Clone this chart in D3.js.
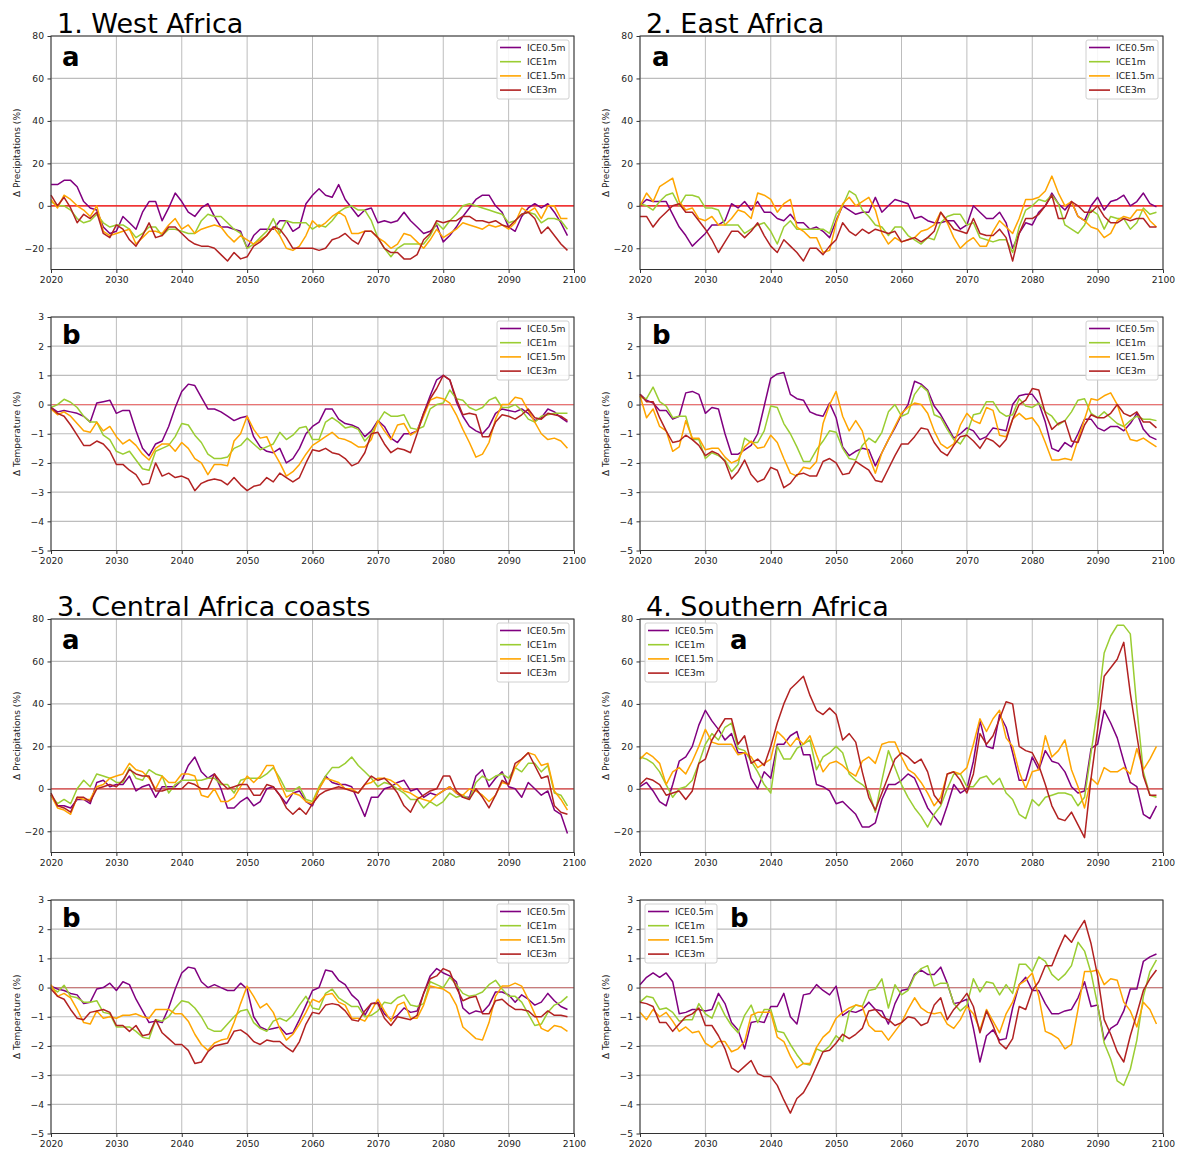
<!DOCTYPE html>
<html>
<head>
<meta charset="utf-8">
<script src="https://cdn.jsdelivr.net/npm/d3@7"></script>
<style>
  body { margin: 0; background: #fff; }
  text { font-family: "DejaVu Sans", sans-serif; }
</style>
</head>
<body>
<script>
"use strict";

// ---- data (one per year 2020..2099) ----
var years = d3.range(2020, 2100);
var xTicks = [2020, 2030, 2040, 2050, 2060, 2070, 2080, 2090, 2100];
var precipTicks = [-20, 0, 20, 40, 60, 80];
var tempTicks = [-5, -4, -3, -2, -1, 0, 1, 2, 3];
var seriesNames = ["ICE0.5m", "ICE1m", "ICE1.5m", "ICE3m"];
var seriesColors = ["#800080", "#9acd32", "#ffa500", "#b22222"];

// 1. West Africa
var westPrecip05 = [10,10,12,12,9,2,-1,-2,-10,-13, -12,-5,-8,-11,-3,2,2,-7,-1,6, 2,-3,-5,-1,1,-5,-10,-10,-11,-12, -20,-14,-11,-11,-11,-7,-7,-12,-10,1, 5,8,5,4,10,3,-1,-5,-2,-1, -8,-7,-8,-7,-3,-7,-10,-13,-12,-9, -17,-14,-10,-5,-1,3,5,5,0,-3, -10,-12,-5,-1,1,-1,1,-3,-8,-14];
var westPrecip1 = [2,0,0,-2,-6,-8,-7,-4,-8,-10, -9,-9,-11,-15,-13,-10,-10,-14,-11,-11, -12,-13,-13,-7,-4,-5,-5,-8,-11,-13, -20,-18,-15,-12,-6,-13,-7,-8,-8,-8, -11,-9,-10,-7,-3,-1,0,-2,-2,-7, -15,-20,-24,-20,-18,-18,-18,-18,-14,-8, -11,-7,-4,0,1,0,-1,-2,-3,-4, -8,-7,-4,-3,-4,-8,-6,-6,-7,-11];
var westPrecip15 = [3,-1,5,3,0,-2,-5,0,-12,-14, -13,-12,-11,-18,-15,-12,-12,-13,-9,-6, -11,-9,-13,-11,-10,-9,-10,-14,-17,-14, -16,-18,-16,-14,-10,-14,-20,-21,-19,-14, -7,-10,-8,-5,-3,-5,-13,-13,-12,-12, -15,-17,-20,-18,-13,-14,-17,-20,-16,-11, -15,-13,-11,-8,-9,-10,-11,-9,-10,-9, -11,-8,-1,-3,-1,-6,0,0,-6,-6];
var westPrecip3 = [5,0,4,-1,-8,-4,-6,-3,-13,-15, -9,-11,-16,-19,-14,-8,-15,-14,-10,-10, -13,-16,-18,-19,-19,-20,-23,-26,-22,-25, -24,-19,-17,-14,-10,-11,-15,-20,-20,-20, -20,-21,-20,-16,-15,-13,-16,-18,-12,-12, -15,-20,-22,-22,-25,-25,-23,-16,-13,-7, -8,-7,-7,-5,-5,-7,-7,-8,-7,-9, -10,-7,-4,-3,-6,-13,-10,-14,-18,-21];
var westTemp05 = [-0.1,-0.25,-0.2,-0.25,-0.3,-0.4,-0.6,0.05,0.1,0.15, -0.3,-0.2,-0.2,-0.9,-1.5,-1.75,-1.35,-1.25,-0.75,-0.1, 0.45,0.7,0.65,0.25,-0.15,-0.15,-0.25,-0.4,-0.55,-0.45, -0.4,-1.1,-1.45,-1.6,-1.65,-1.5,-2.0,-1.85,-1.5,-1.0, -0.75,-0.6,-0.15,-0.15,-0.5,-0.65,-0.7,-0.8,-1.1,-0.9, -0.55,-0.75,-1.15,-1.3,-1.0,-1.0,-0.9,-0.3,0.3,0.85, 1.0,0.85,0.1,-0.4,-0.75,-0.9,-1.0,-0.75,-0.3,-0.15, -0.2,-0.25,-0.15,-0.3,-0.55,-0.45,-0.15,-0.25,-0.45,-0.6];
var westTemp1 = [-0.1,0.0,0.18,0.08,-0.1,-0.4,-0.6,-0.6,-1.05,-1.2, -1.6,-1.7,-1.6,-1.9,-2.2,-2.25,-1.6,-1.5,-1.4,-1.1, -0.65,-0.7,-1.05,-1.3,-1.7,-1.85,-1.85,-1.8,-1.5,-1.4, -1.15,-1.35,-1.55,-1.45,-1.35,-0.95,-1.2,-1.05,-0.8,-0.75, -1.2,-1.2,-0.6,-0.45,-0.6,-0.8,-0.75,-0.85,-1.25,-1.0, -0.6,-0.25,-0.4,-0.4,-0.35,-0.8,-0.85,-0.75,-0.15,0.0, 0.05,0.5,0.2,0.15,-0.1,-0.2,-0.1,0.15,0.25,-0.1, -0.1,0.0,-0.2,-0.5,-0.6,-0.4,-0.35,-0.3,-0.3,-0.3];
var westTemp15 = [-0.15,-0.35,-0.25,-0.4,-0.65,-0.9,-0.95,-0.6,-0.9,-0.75, -1.1,-1.35,-1.2,-1.4,-1.7,-1.9,-1.5,-1.35,-1.35,-1.6, -1.3,-1.5,-1.85,-2.0,-2.4,-2.05,-2.05,-2.1,-1.25,-1.0, -0.4,-0.85,-1.15,-1.1,-1.6,-2.0,-2.45,-2.3,-2.05,-1.7, -1.4,-1.25,-1.1,-0.95,-1.15,-1.2,-1.3,-1.45,-1.45,-1.2, -0.55,-0.9,-1.2,-0.7,-0.65,-1.05,-0.9,-0.4,0.15,0.25, 0.2,0.05,-0.35,-0.85,-1.3,-1.8,-1.7,-1.3,-0.5,0.0, 0.0,0.25,0.2,-0.2,-0.6,-1.0,-1.2,-1.15,-1.25,-1.5];
var westTemp3 = [-0.1,-0.3,-0.4,-0.7,-1.05,-1.4,-1.4,-1.25,-1.35,-1.6, -2.05,-2.05,-2.25,-2.4,-2.75,-2.7,-2.0,-2.45,-2.35,-2.5, -2.45,-2.55,-2.95,-2.7,-2.6,-2.55,-2.6,-2.75,-2.5,-2.75, -2.95,-2.8,-2.75,-2.5,-2.65,-2.35,-2.5,-2.65,-2.5,-2.0, -1.55,-1.6,-1.5,-1.65,-1.7,-1.85,-2.1,-2.0,-1.65,-1.0, -0.95,-1.35,-1.65,-1.5,-1.55,-1.65,-1.0,-0.3,0.2,0.55, 1.0,0.85,0.2,-0.35,-0.3,-0.35,-1.1,-1.1,-0.6,-0.35, -0.4,-0.5,-0.35,-0.15,-0.45,-0.5,-0.3,-0.35,-0.4,-0.55];

// 2. East Africa
var eastPrecip05 = [0,3,2,2,2,-4,-10,-14,-19,-16, -13,-9,-9,-7,1,-1,2,-2,2,-3, -3,-6,-7,-4,-8,-8,-11,-10,-12,-15, -7,0,-2,-4,-3,-3,4,-3,0,3, 2,1,-6,-5,-7,-8,-8,-7,-7,-11, -9,0,-3,-6,-6,-3,-8,-20,-13,-8, -9,-3,0,6,1,-2,2,-5,-7,0, 4,-2,2,3,5,0,2,6,1,-0.5];
var eastPrecip1 = [1,0,-2,2,5,6,0,5,5,4, -1,-1,-2,-9,-9,-9,-13,-11,-9,-8, -12,-18,-10,-7,-11,-11,-11,-11,-11,-13, -4,0,7,5,-2,-5,-9,-10,-14,-10, -10,-14,-16,-18,-15,-16,-8,-5,-4,-4, -9,-8,-15,-16,-17,-16,-16,-22,-10,-2, 0,3,2,5,1,-9,-11,-13,-9,-2, -4,-11,-5,-6,-6,-11,-8,-1,-4,-3];
var eastPrecip15 = [0,6,2,9,11,13,2,-2,-1,-6, -7,-5,-9,-9,-6,-2,-3,-6,6,5, 3,-3,1,3,-10,-12,-15,-15,-22,-21, -8,1,4,0,2,4,-2,-13,-18,-15, -17,-16,-15,-12,-11,-9,-3,-8,-15,-20, -17,-15,-19,-19,-12,-7,-10,-13,-6,3, 3,4,7,14,6,0,2,-5,-7,-10, -11,-15,-13,-7,-5,-6,-2,-2,-7,-10];
var eastPrecip3 = [-5,-5,-10,-6,-3,0,1,-3,-3,-7, -11,-16,-22,-17,-12,-12,-15,-12,-8,-14, -19,-22,-16,-19,-22,-26,-20,-20,-23,-19, -16,-8,-12,-14,-11,-13,-11,-12,-13,-12, -17,-16,-15,-17,-15,-12,-3,-7,-11,-12, -13,-6,-13,-14,-14,-11,-15,-26,-13,-6, -6,-4,0,5,-6,-6,2,0,-3,-3, 0,-5,-8,-8,-6,-7,-6,-6,-10,-10];
var eastTemp05 = [0.35,0.15,0.05,-0.2,-0.2,-0.5,-0.4,0.4,0.45,0.35, -0.3,-0.1,-0.15,-1.0,-1.7,-1.7,-1.55,-1.4,-1.0,-0.05, 0.9,1.05,1.1,0.35,0.2,0.15,-0.25,-0.35,-0.4,0.05, -0.45,-1.45,-1.75,-1.6,-1.5,-1.55,-2.1,-1.65,-1.2,-0.8, -0.35,0.0,0.8,0.7,0.5,-0.05,-0.35,-0.75,-1.15,-1.0, -0.8,-0.9,-1.2,-1.1,-0.8,-0.85,-0.9,0.0,0.3,0.35, 0.35,0.05,-0.6,-1.5,-1.6,-1.3,-1.45,-1.0,-0.5,-0.5, -0.8,-0.9,-0.75,-0.75,-0.9,-0.65,-0.3,-0.85,-1.1,-1.2];
var eastTemp1 = [0.25,0.2,0.6,0.1,-0.05,-0.45,-0.4,-0.4,-1.2,-1.2, -1.85,-1.65,-1.75,-1.9,-2.3,-2.05,-1.15,-1.3,-1.3,-0.9, -0.05,-0.1,-0.65,-1.0,-1.45,-1.95,-1.95,-1.55,-1.25,-0.9, -0.95,-1.5,-1.85,-1.9,-1.4,-1.15,-1.3,-0.95,-0.25,0.0, -0.4,-0.3,0.35,0.65,0.45,-0.35,-0.45,-0.85,-1.2,-1.35, -1.0,-0.35,-0.3,0.1,0.1,-0.25,-0.4,-0.35,0.2,-0.05, -0.1,0.05,-0.25,-0.4,-0.7,-0.55,-0.25,0.15,0.2,-0.3, -0.45,-0.25,-0.45,-0.65,-0.75,-0.55,-0.4,-0.5,-0.5,-0.55];
var eastTemp15 = [0.3,-0.45,-0.15,-0.75,-0.9,-1.6,-1.45,-0.55,-1.15,-1.15, -1.55,-1.5,-1.5,-1.8,-2.0,-1.9,-1.45,-1.25,-1.5,-1.45, -1.05,-1.3,-1.85,-2.35,-2.45,-2.15,-2.2,-1.95,-0.65,0.0, 0.45,-0.4,-0.9,-0.55,-0.9,-1.75,-2.35,-1.65,-1.2,-0.75, -0.3,-0.1,0.05,0.0,-0.3,-0.9,-1.35,-1.5,-1.35,-0.7, -0.3,-0.55,-0.65,-0.1,-0.2,-1.05,-1.1,-0.5,-0.3,-0.5, -0.45,-0.75,-1.3,-1.9,-1.9,-1.85,-1.9,-1.2,-0.5,0.2, 0.15,0.3,0.4,0.0,-0.7,-1.2,-1.25,-1.15,-1.3,-1.45];
var eastTemp3 = [0.35,0.1,0.1,-0.45,-0.9,-1.3,-1.25,-1.05,-1.2,-1.4, -1.75,-1.6,-1.7,-1.95,-2.55,-2.3,-1.9,-2.4,-2.65,-2.55, -2.15,-2.25,-2.85,-2.7,-2.4,-2.35,-2.45,-2.45,-1.95,-1.85, -2.0,-2.4,-2.35,-1.95,-2.1,-2.25,-2.6,-2.65,-2.2,-1.75, -1.35,-1.35,-1.1,-0.8,-0.85,-1.3,-1.6,-1.75,-1.4,-1.1, -1.05,-1.25,-1.5,-1.15,-1.25,-1.45,-1.2,-0.5,0.0,0.15, 0.55,0.5,-0.3,-0.85,-0.65,-0.55,-1.25,-1.3,-0.7,-0.35, -0.45,-0.45,-0.3,0.0,-0.3,-0.4,-0.25,-0.6,-0.6,-0.8];

// 3. Central Africa coasts
var centralPrecip05 = [-3,-8,-8,-9,-5,-5,-7,3,4,1, 2,2,6,-1,1,2,-4,1,1,1, 4,11,15,8,5,7,0,-9,-9,-6, -4,-8,-6,0,1,-3,-7,-2,-1,-6, -8,0,6,3,2,2,1,-6,-13,-4, -4,0,1,3,4,-1,0,-4,-2,-3, -1,1,-2,-4,-4,6,9,1,5,8, 1,0,-4,3,0,-3,-1,-10,-12,-21];
var centralPrecip1 = [-3,-7,-5,-7,0,4,1,7,6,5, 3,3,10,5,4,9,7,6,-2,2, 4,4,4,4,5,5,2,2,-2,4, 5,5,5,7,10,5,-1,-1,1,-5, -6,1,6,10,10,12,15,11,8,5, 1,3,2,0,-2,-5,-5,-9,-6,-8, -6,-2,-4,-3,-5,3,6,4,6,7, 5,10,8,12,12,8,11,-2,-3,-8];
var centralPrecip15 = [-3,-9,-10,-12,-4,-5,-5,1,2,5, 6,7,12,9,8,5,0,6,3,3, 7,7,6,-3,-4,0,-6,-6,-4,1, 6,3,6,11,11,3,-4,-2,-3,-6, -7,0,5,4,3,0,0,-2,2,3, 5,5,4,2,-1,-2,-4,-5,-6,-3, -1,1,-2,-3,0,-1,-3,-6,-3,3, 2,10,14,17,16,11,12,-1,-5,-10];
var centralPrecip3 = [-2,-8,-9,-11,-4,-4,-6,0,1,2, 1,4,9,7,6,6,-1,-1,0,0, 0,3,2,0,0,7,3,0,1,2, 2,-3,-3,2,1,-3,-9,-12,-9,-12, -7,-3,-1,0,1,0,-1,-2,2,6, 4,5,2,-2,-8,-11,-5,-3,-1,0, 6,6,-1,-4,-5,0,-4,-9,-3,4, 2,12,14,17,11,5,6,-8,-11,-12];
var centralTemp05 = [0.05,-0.05,-0.1,-0.2,-0.25,-0.55,-0.5,-0.05,0.0,0.15, -0.1,0.2,0.1,-0.4,-0.8,-1.2,-1.15,-1.2,-0.7,-0.05, 0.5,0.7,0.65,0.2,0.0,0.1,0.0,-0.1,-0.1,0.15, -0.05,-1.0,-1.35,-1.45,-1.4,-1.35,-1.6,-1.55,-1.1,-0.6, -0.1,0.0,0.6,0.55,0.25,0.1,-0.25,-0.45,-0.95,-0.55, -0.5,-0.9,-1.1,-0.95,-0.7,-0.85,-0.8,-0.2,0.4,0.65, 0.5,0.4,0.2,-0.7,-0.9,-0.8,-0.85,-0.6,-0.15,-0.15, -0.25,-0.5,-0.25,-0.4,-0.6,-0.5,-0.2,-0.45,-0.65,-0.75];
var centralTemp1 = [0.0,-0.15,0.08,-0.3,-0.35,-0.5,-0.5,-0.45,-0.85,-0.9, -1.35,-1.35,-1.35,-1.5,-1.7,-1.75,-1.1,-1.15,-1.0,-0.7, -0.45,-0.5,-0.7,-1.0,-1.4,-1.5,-1.5,-1.25,-1.0,-0.8, -0.75,-1.2,-1.4,-1.5,-1.15,-1.05,-1.15,-0.95,-0.6,-0.3, -0.7,-0.75,-0.2,-0.05,-0.35,-0.5,-0.65,-0.65,-1.0,-0.95, -0.8,-0.5,-0.55,-0.35,-0.25,-0.6,-0.65,-0.55,0.2,0.1, 0.0,0.35,0.1,-0.2,-0.3,-0.25,-0.15,0.1,0.25,-0.05, -0.3,-0.3,-0.5,-0.9,-1.3,-1.25,-0.85,-0.6,-0.5,-0.3];
var centralTemp15 = [0.1,-0.3,-0.2,-0.35,-0.75,-1.2,-1.25,-0.8,-1.05,-1.0, -1.05,-0.95,-0.95,-0.9,-1.0,-1.05,-0.75,-0.75,-0.75,-0.9, -0.9,-1.15,-1.6,-1.95,-2.15,-1.9,-1.8,-1.75,-1.2,-0.55, 0.05,-0.3,-0.7,-0.55,-0.85,-1.4,-1.8,-1.6,-1.25,-0.85, -0.4,-0.5,-0.25,-0.2,-0.5,-0.6,-1.05,-1.05,-1.15,-0.8, -0.4,-0.8,-1.15,-0.6,-0.5,-1.05,-1.05,-0.6,0.05,0.0, -0.05,-0.2,-0.6,-1.35,-1.55,-1.75,-1.8,-1.2,-0.3,0.05, 0.05,0.15,0.05,-0.4,-0.9,-1.4,-1.5,-1.3,-1.35,-1.5];
var centralTemp3 = [-0.05,-0.3,-0.4,-0.75,-1.05,-1.1,-0.85,-0.8,-0.75,-0.85, -1.3,-1.3,-1.5,-1.3,-1.65,-1.6,-1.1,-1.55,-1.75,-1.95, -1.95,-2.15,-2.6,-2.55,-2.2,-2.0,-1.95,-1.9,-1.5,-1.45, -1.6,-1.85,-1.95,-1.8,-1.85,-1.85,-2.05,-2.2,-1.85,-1.25, -0.85,-0.9,-0.6,-0.55,-0.6,-0.8,-1.1,-1.15,-0.8,-0.55, -0.55,-1.05,-1.3,-1.0,-1.05,-1.1,-0.95,-0.2,0.3,0.4, 0.65,0.55,0.0,-0.45,-0.35,-0.3,-0.9,-0.9,-0.45,-0.4, -0.6,-0.75,-0.75,-0.8,-1.0,-1.0,-0.8,-0.95,-0.95,-1.0];

// 4. Southern Africa
var southPrecip05 = [1,3,-1,-6,-8,2,13,15,20,30, 37,32,28,23,26,17,17,5,0,8, 5,21,21,25,27,16,16,2,1,-1, -7,-6,-9,-12,-18,-18,-16,-5,2,2, 4,7,5,-2,-9,-13,-17,-8,2,-2, 0,13,32,20,19,35,29,17,4,4, 15,9,18,13,12,8,1,-2,-1,19, 21,37,31,24,13,3,1,-12,-14,-8];
var southPrecip1 = [15,14,12,8,2,-4,0,1,4,12, 21,26,23,29,31,19,18,13,8,2, -2,20,14,14,19,21,23,9,15,17, 20,17,7,4,2,-1,-11,4,18,10, 2,-4,-9,-13,-18,-12,-8,0,7,7, 1,1,5,6,2,5,-2,-5,-12,-14, -5,-8,-4,-3,-2,-2,-3,-8,-4,17, 38,64,72,77,77,73,38,8,-3,-4];
var southPrecip15 = [14,17,15,12,2,8,10,7,13,20, 28,22,21,21,21,16,17,15,10,12, 14,27,24,20,24,21,25,16,8,12, 13,11,8,6,13,15,12,21,22,22, 15,9,7,3,-2,-8,-4,7,8,7, 10,21,33,27,33,37,24,20,8,0, 8,9,25,15,18,23,9,1,-9,5, 2,10,8,8,10,7,19,9,14,20];
var southPrecip3 = [2,5,4,2,-3,-2,-1,-5,-1,12, 14,23,28,33,33,21,25,12,14,11, 20,31,40,47,50,53,44,37,35,38, 35,23,26,22,8,-4,-10,-2,6,14, 17,15,12,14,8,-3,-7,7,8,4, -2,7,26,21,25,33,41,40,20,18, 17,11,2,-8,-14,-15,-11,-17,-23,5, 28,53,57,61,69,45,25,6,-3,-3];
var southTemp05 = [0.1,0.35,0.5,0.35,0.5,0.2,-0.9,-0.85,-0.75,-0.75, -0.8,-0.75,-0.2,-0.55,-1.2,-1.45,-2.1,-1.2,-1.15,-1.2, -0.65,-0.65,-0.2,-1.0,-1.25,-0.25,-0.2,0.1,-0.1,-0.25, 0.05,-0.95,-0.8,-0.85,-0.75,-0.5,-0.75,-0.8,-1.25,-0.55, -0.1,-0.05,0.45,0.6,0.45,0.45,0.7,0.15,-0.55,-0.5, -0.4,-1.4,-2.55,-1.65,-1.45,-1.8,-1.75,-0.7,0.1,0.35, -0.1,-0.1,-0.55,-0.9,-0.9,-0.8,-0.75,-0.35,0.2,-0.65, -0.6,-1.8,-1.4,-1.25,-0.8,-0.05,-0.05,0.9,1.05,1.15];
var southTemp1 = [-0.5,-0.3,-0.35,-0.75,-0.7,-0.85,-1.15,-1.1,-1.1,-0.55, -0.9,-1.05,-0.5,-0.95,-1.3,-1.55,-0.95,-0.6,-1.2,-0.75, -0.75,-1.5,-1.55,-1.95,-2.3,-2.6,-2.65,-2.1,-2.2,-2.0, -1.65,-1.85,-0.85,-0.6,-0.65,-0.1,-0.05,0.3,-0.7,0.1, -0.25,-0.1,0.4,0.65,0.75,0.05,0.15,0.15,-0.55,-0.8, -0.6,0.3,-0.15,0.2,0.15,-0.25,0.1,-0.2,0.8,0.8, 0.55,1.05,0.9,0.45,0.25,0.45,0.75,1.55,1.25,0.5, -0.6,-1.9,-2.45,-3.2,-3.35,-2.8,-1.8,-0.3,0.55,0.95];
var southTemp15 = [-0.85,-1.1,-0.75,-1.0,-0.85,-1.15,-1.5,-1.35,-1.55,-1.5, -1.9,-2.05,-1.85,-1.85,-2.2,-2.1,-1.85,-0.95,-0.85,-0.85, -0.85,-1.7,-1.85,-2.35,-2.75,-2.6,-2.6,-2.05,-1.7,-1.5, -1.05,-0.85,-0.7,-0.6,-0.65,-1.3,-1.5,-1.5,-1.8,-1.5, -1.2,-0.75,-0.35,-0.7,-0.85,-0.9,-0.85,-1.25,-1.4,-1.1, -0.65,-0.9,-1.45,-0.75,-1.15,-1.55,-0.9,-0.5,0.1,0.25, 0.5,-0.3,-1.5,-1.6,-1.75,-2.1,-1.95,-0.75,0.55,0.55, 0.6,0.1,0.3,0.25,-0.5,-0.8,-1.35,-0.5,-0.75,-1.25];
var southTemp3 = [-0.5,-0.55,-0.65,-1.2,-1.2,-1.5,-1.25,-1.0,-0.9,-0.7, -1.3,-1.3,-1.65,-2.1,-2.75,-2.9,-2.7,-2.5,-2.95,-3.05, -3.05,-3.35,-3.85,-4.3,-3.8,-3.6,-3.2,-2.7,-2.2,-2.15, -1.9,-1.6,-1.75,-1.6,-1.4,-0.8,-0.75,-1.0,-1.1,-1.3, -1.2,-1.0,-1.05,-1.3,-1.2,-0.6,-0.35,-1.1,-0.75,-0.5, -0.2,-0.65,-1.55,-0.8,-1.3,-1.9,-2.1,-1.75,-0.65,-0.75, -0.1,0.2,0.75,0.75,1.3,1.8,1.55,1.95,2.3,1.5, 0.4,-1.1,-1.6,-2.2,-2.55,-1.65,-0.9,-0.1,0.3,0.6];

// ---- layout ----
var plotW = 523,
    plotH = 233.5,
    colLeft = [51, 640];

var precipAxis = { domain: [-30, 80], ticks: precipTicks, label: "\u0394 Precipitations (%)" };
var tempAxis = { domain: [-5, 3], ticks: tempTicks, label: "\u0394 Temperature (%)" };

var panels = [
  { col: 0, top: 36,  title: "1. West Africa", letter: "a", axis: precipAxis, zero: "#ff0000", legend: "right", letterDx: 11,
    series: [westPrecip05, westPrecip1, westPrecip15, westPrecip3] },
  { col: 0, top: 317, letter: "b", axis: tempAxis, zero: "#e97474", legend: "right", letterDx: 11,
    series: [westTemp05, westTemp1, westTemp15, westTemp3] },
  { col: 1, top: 36,  title: "2. East Africa", letter: "a", axis: precipAxis, zero: "#ff0000", legend: "right", letterDx: 12,
    series: [eastPrecip05, eastPrecip1, eastPrecip15, eastPrecip3] },
  { col: 1, top: 317, letter: "b", axis: tempAxis, zero: "#e97474", legend: "right", letterDx: 12,
    series: [eastTemp05, eastTemp1, eastTemp15, eastTemp3] },
  { col: 0, top: 619, title: "3. Central Africa coasts", letter: "a", axis: precipAxis, zero: "#dd4040", legend: "right", letterDx: 11,
    series: [centralPrecip05, centralPrecip1, centralPrecip15, centralPrecip3] },
  { col: 0, top: 900, letter: "b", axis: tempAxis, zero: "#c87c7c", legend: "right", letterDx: 11,
    series: [centralTemp05, centralTemp1, centralTemp15, centralTemp3] },
  { col: 1, top: 619, title: "4. Southern Africa", letter: "a", axis: precipAxis, zero: "#dd4040", legend: "left", letterDx: 90,
    series: [southPrecip05, southPrecip1, southPrecip15, southPrecip3] },
  { col: 1, top: 900, letter: "b", axis: tempAxis, zero: "#c87c7c", legend: "left", letterDx: 90,
    series: [southTemp05, southTemp1, southTemp15, southTemp3] }
];

var svg = d3.select("body")
  .append("svg")
    .attr("width", 1183)
    .attr("height", 1151)
    .style("background", "#fff");

function drawLegend(g, bx, by) {
  g.append("rect")
    .attr("x", bx).attr("y", by)
    .attr("width", 72).attr("height", 59)
    .attr("rx", 2)
    .attr("fill", "#fff").attr("fill-opacity", 0.85)
    .attr("stroke", "#d0d0d0");
  seriesNames.forEach(function (name, i) {
    var yy = by + 7.5 + i * 14.2;
    g.append("line")
      .attr("x1", bx + 3).attr("x2", bx + 24)
      .attr("y1", yy).attr("y2", yy)
      .attr("stroke", seriesColors[i])
      .attr("stroke-width", 1.6);
    g.append("text")
      .attr("x", bx + 30).attr("y", yy)
      .attr("dy", "0.35em")
      .attr("font-size", 9.2)
      .attr("fill", "#222")
      .text(name);
  });
}

function drawPanel(p) {
  var left = colLeft[p.col],
      top = p.top;
  var x = d3.scaleLinear().domain([2020, 2100]).range([left, left + plotW]);
  var y = d3.scaleLinear().domain(p.axis.domain).range([top + plotH, top]);
  var g = svg.append("g");

  // grid
  g.selectAll(".vgrid")
    .data(xTicks)
    .enter().append("line")
      .attr("x1", function (d) { return x(d); })
      .attr("x2", function (d) { return x(d); })
      .attr("y1", top).attr("y2", top + plotH)
      .attr("stroke", "#bdbdbd")
      .attr("stroke-width", 1);
  g.selectAll(".hgrid")
    .data(p.axis.ticks)
    .enter().append("line")
      .attr("x1", left).attr("x2", left + plotW)
      .attr("y1", function (d) { return y(d); })
      .attr("y2", function (d) { return y(d); })
      .attr("stroke", "#bdbdbd")
      .attr("stroke-width", 1.2);

  // zero reference
  g.append("line")
    .attr("x1", left).attr("x2", left + plotW)
    .attr("y1", y(0)).attr("y2", y(0))
    .attr("stroke", p.zero)
    .attr("stroke-width", 1.2);

  // series
  var line = d3.line()
    .x(function (d, i) { return x(years[i]); })
    .y(function (d) { return y(d); });
  p.series.forEach(function (s, i) {
    g.append("path")
      .datum(s)
      .attr("d", line)
      .attr("fill", "none")
      .attr("stroke", seriesColors[i])
      .attr("stroke-width", 1.5)
      .attr("stroke-linejoin", "round");
  });

  // frame
  g.append("rect")
    .attr("x", left).attr("y", top)
    .attr("width", plotW).attr("height", plotH)
    .attr("fill", "none")
    .attr("stroke", "#333")
    .attr("stroke-width", 1);

  // axes
  var xAxis = g.append("g")
    .attr("transform", "translate(0," + (top + plotH) + ")")
    .call(d3.axisBottom(x).tickValues(xTicks).tickFormat(d3.format("d"))
      .tickSizeInner(3.5).tickSizeOuter(0).tickPadding(3.5));
  var yAxis = g.append("g")
    .attr("transform", "translate(" + left + ",0)")
    .call(d3.axisLeft(y).tickValues(p.axis.ticks).tickFormat(d3.format("d"))
      .tickSizeInner(3.5).tickSizeOuter(0).tickPadding(3.5));
  [xAxis, yAxis].forEach(function (a) {
    a.select(".domain").remove();
    a.selectAll("line").attr("stroke", "#333");
    a.selectAll("text")
      .attr("font-size", 9.2)
      .attr("font-family", "DejaVu Sans, sans-serif")
      .attr("fill", "#222");
  });

  // y label
  g.append("text")
    .attr("transform", "translate(" + (left - 34) + "," + (top + plotH / 2) + ") rotate(-90)")
    .attr("text-anchor", "middle")
    .attr("dy", "0.35em")
    .attr("font-size", 9)
    .attr("fill", "#222")
    .text(p.axis.label);

  // panel letter
  g.append("text")
    .attr("x", left + p.letterDx)
    .attr("y", top + (p.letter === "a" ? 30 : 27))
    .attr("font-size", 26)
    .attr("font-weight", "bold")
    .attr("fill", "#000")
    .text(p.letter);

  // legend
  if (p.legend === "right") {
    drawLegend(g, left + plotW - 77, top + 4);
  } else {
    drawLegend(g, left + 5, top + 4);
  }

  // region title
  if (p.title) {
    g.append("text")
      .attr("x", left + 6)
      .attr("y", top - 3)
      .attr("font-size", 27)
      .attr("fill", "#000")
      .text(p.title);
  }
}

panels.forEach(drawPanel);
</script>
</body>
</html>
